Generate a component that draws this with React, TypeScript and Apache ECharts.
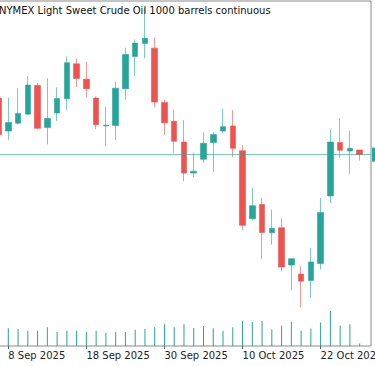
import React, { useEffect, useRef } from "react";
import * as echarts from "echarts";

const titleText = "NYMEX Light Sweet Crude Oil 1000 barrels continuous";

const dates = [
  "5 Sep 2025", "8 Sep 2025", "9 Sep 2025", "10 Sep 2025", "11 Sep 2025", "12 Sep 2025",
  "15 Sep 2025", "16 Sep 2025", "17 Sep 2025", "18 Sep 2025", "19 Sep 2025",
  "22 Sep 2025", "23 Sep 2025", "24 Sep 2025", "25 Sep 2025", "26 Sep 2025",
  "29 Sep 2025", "30 Sep 2025", "1 Oct 2025", "2 Oct 2025", "3 Oct 2025",
  "6 Oct 2025", "7 Oct 2025", "8 Oct 2025", "9 Oct 2025", "10 Oct 2025",
  "13 Oct 2025", "14 Oct 2025", "15 Oct 2025", "16 Oct 2025", "17 Oct 2025",
  "20 Oct 2025", "21 Oct 2025", "22 Oct 2025", "23 Oct 2025", "24 Oct 2025",
  "27 Oct 2025", "28 Oct 2025",
];

const openP = [
  63.31, 62.47, 62.67, 62.9, 63.63, 62.56, 62.93, 63.29, 64.18, 63.79, 63.31,
  62.6, 62.61, 63.55, 64.37, 64.7, 64.58, 63.2, 62.72, 62.19, 61.4, 61.75,
  62.18, 62.47, 62.6, 61.97, 60.24, 60.6, 59.88, 60.01, 59.06, 58.83, 58.67,
  59.1, 60.82, 62.18, 61.96, 61.99,
];
const closeP = [
  62.38, 62.69, 62.92, 63.64, 62.54, 62.79, 63.3, 64.21, 63.81, 63.55, 62.63,
  62.62, 63.56, 64.42, 64.71, 64.83, 63.21, 62.68, 62.21, 61.4, 61.45, 62.16,
  62.38, 62.58, 62.03, 60.07, 60.57, 59.89, 59.99, 59.01, 59.22, 58.65, 59.14,
  60.4, 62.19, 61.98, 62.03, 61.87,
];
const lowP = [
  62.31, 62.25, 62.64, 62.88, 62.51, 62.13, 62.73, 63.01, 63.59, 63.34, 62.52,
  62.08, 62.24, 63.27, 63.87, 64.32, 63.07, 62.37, 61.92, 61.19, 61.3, 61.66,
  61.43, 62.42, 61.81, 59.95, 60.2, 59.21, 59.58, 58.9, 58.42, 57.98, 58.23,
  58.95, 60.64, 61.79, 61.38, 61.72,
];
const highP = [
  63.38, 63.32, 63.56, 63.87, 63.69, 63.81, 63.58, 64.37, 64.32, 64.23, 63.35,
  63.08, 63.73, 64.59, 64.8, 65.6, 64.85, 63.27, 63.02, 62.75, 61.92, 62.44,
  62.44, 63.04, 63.0, 62.11, 61.02, 60.77, 60.47, 60.25, 59.23, 59.03, 59.5,
  60.77, 62.52, 62.8, 62.48, 61.99,
];
// volume, thousands of contracts
const volume = [
  190, 177, 170, 153, 153, 187, 140, 153, 153, 143, 153, 130, 143, 140, 163,
  170, 187, 217, 187, 217, 180, 200, 177, 153, 187, 253, 240, 250, 167, 203,
  240, 155, 175, 235, 350, 205, 217, 25,
];
const priceTicks = [58, 59, 60, 61, 62, 63, 64, 65];

const UP = "#26a69a";
const DOWN = "#ef5350";
const FONT = "DejaVu Sans";

export default function App() {
  const ref = useRef<HTMLDivElement>(null);
  useEffect(() => {
    if (!ref.current) return;
    const chart = echarts.init(ref.current, null, { renderer: "svg" });
    const candles = dates.map((_, i) => [openP[i], closeP[i], lowP[i], highP[i]]);
    const lastClose = closeP[closeP.length - 1];
    const labelFn = (i: number) => (i - 1) % 8 === 0;
    const pMin = 57;
    const pMax = 65.78;
    chart.setOption({
      animation: false,
      backgroundColor: "#ffffff",
      textStyle: { fontFamily: FONT },
      title: {
        text: titleText,
        left: -1,
        top: 5.5,
        padding: 0,
        textStyle: { fontFamily: FONT, fontSize: 10, fontWeight: "normal", color: "#111" },
      },
      grid: [
        { left: -6.34, right: 10.46, top: 1, bottom: 20, outerBoundsMode: "none", containLabel: false },
        { left: -6.34, right: 10.46, top: 1, bottom: 20, outerBoundsMode: "none", containLabel: false },
        {
          left: -10, right: 4, top: 1, bottom: 20, outerBoundsMode: "none", containLabel: false,
          show: true, borderColor: "#8a8a8a", borderWidth: 1, backgroundColor: "transparent",
        },
      ],
      xAxis: [
        {
          type: "category",
          gridIndex: 0,
          data: dates,
          boundaryGap: true,
          axisLine: { show: false },
          axisTick: {
            show: true,
            interval: labelFn,
            alignWithLabel: true,
            length: 3,
            lineStyle: { color: "#666" },
          },
          axisLabel: {
            show: true,
            interval: labelFn,
            align: "left",
            margin: 4.5,
            fontSize: 10,
            fontFamily: FONT,
            color: "#222",
          },
          splitLine: { show: false },
        },
        { type: "category", gridIndex: 1, data: dates, boundaryGap: true, show: false },
        { type: "value", gridIndex: 2, min: 0, max: 1, show: false },
      ],
      yAxis: [
        { type: "value", gridIndex: 0, min: pMin, max: pMax, show: false, splitLine: { show: false } },
        { type: "value", gridIndex: 1, min: 0, max: 3450, show: false, splitLine: { show: false } },
        {
          type: "value",
          gridIndex: 2,
          position: "right",
          min: pMin,
          max: pMax,
          interval: 1,
          axisLine: { show: true, lineStyle: { color: "#a0a0a0", width: 2 } },
          axisTick: {
            show: true,
            inside: false,
            length: 4,
            customValues: priceTicks,
            lineStyle: { color: "#555" },
          },
          axisLabel: { show: false },
          splitLine: { show: false },
        },
      ],
      series: [
        {
          type: "bar",
          xAxisIndex: 1,
          yAxisIndex: 1,
          data: volume,
          barWidth: 1,
          itemStyle: { color: UP },
          silent: true,
        },
        {
          type: "candlestick",
          xAxisIndex: 0,
          yAxisIndex: 0,
          data: candles,
          barWidth: 6,
          itemStyle: {
            color: UP,
            color0: DOWN,
            borderColor: "rgba(38,166,154,0.6)",
            borderColor0: "rgba(239,83,80,0.6)",
            borderWidth: 1,
          },
          silent: true,
        },
        {
          type: "line",
          xAxisIndex: 2,
          yAxisIndex: 2,
          data: [],
          silent: true,
          markLine: {
            silent: true,
            symbol: ["none", "none"],
            lineStyle: { color: "rgba(38,166,154,0.6)", width: 1, type: "solid" },
            label: {
              show: true,
              position: "end",
              distance: 1,
              formatter: () => " ",
              backgroundColor: UP,
              padding: [3, 6],
              fontSize: 8,
              color: "#fff",
            },
            data: [{ yAxis: lastClose }],
          },
        },
      ],
    });
    return () => chart.dispose();
  }, []);
  return <div ref={ref} style={{ width: 375, height: 366, position: "fixed", left: 0, top: 0 }} />;
}
